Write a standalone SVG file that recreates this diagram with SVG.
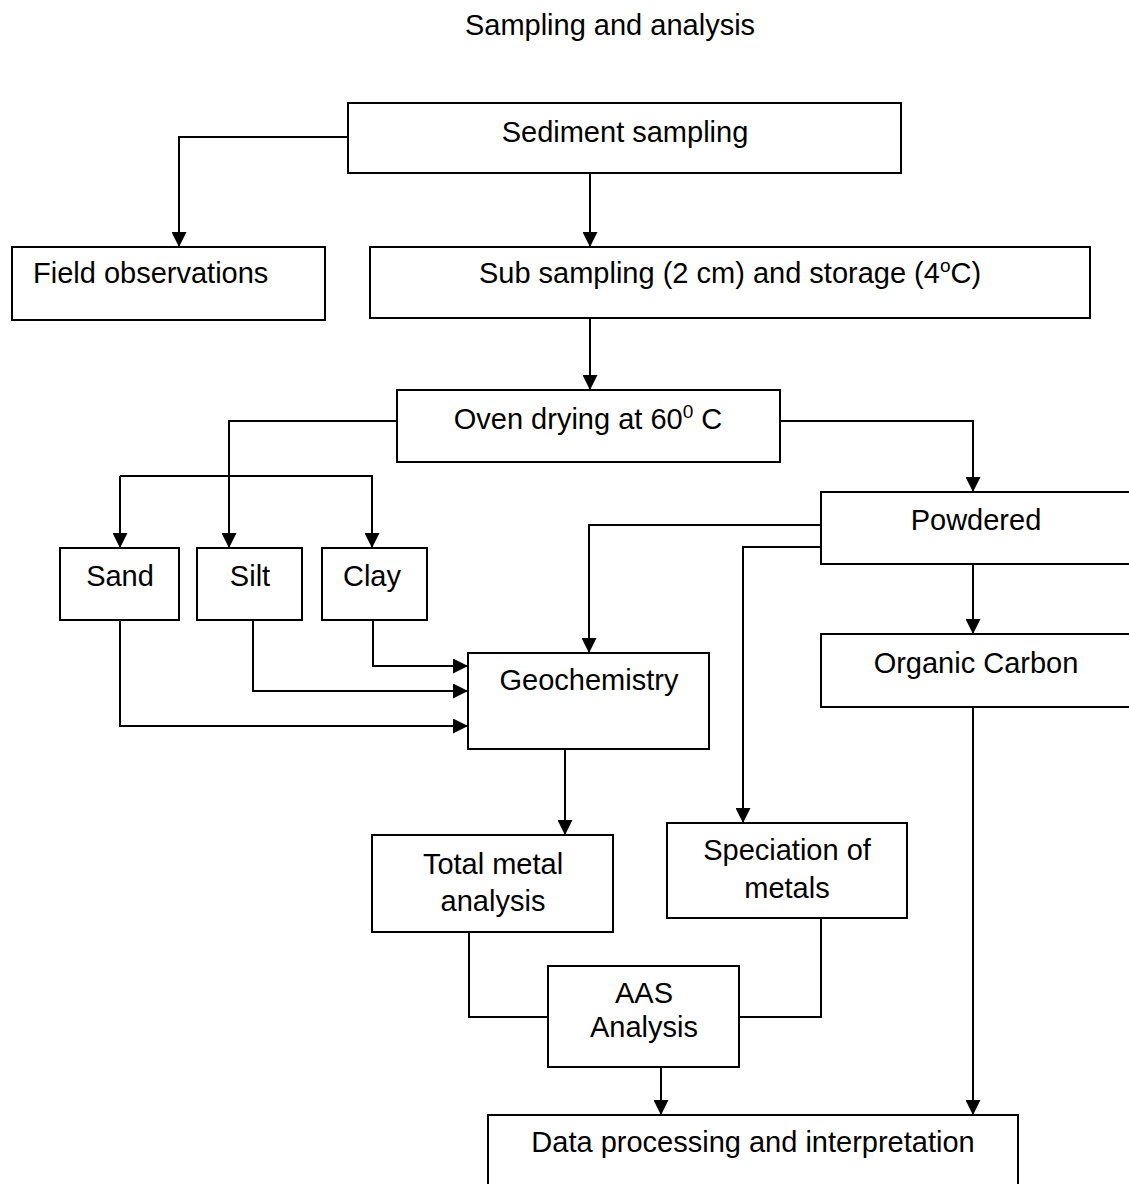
<svg xmlns="http://www.w3.org/2000/svg" width="1129" height="1184" viewBox="0 0 1129 1184">
<defs>
<style>
.box{fill:#fff;stroke:#000;stroke-width:2}
.t{font-family:"Liberation Sans",Arial,sans-serif;font-size:29px;fill:#000;text-anchor:middle}
.c{fill:none;stroke:#000;stroke-width:2}
</style>
<marker id="ah" viewBox="0 0 10 10" refX="10" refY="5" markerWidth="15" markerHeight="15" markerUnits="userSpaceOnUse" orient="auto">
<path d="M0,0 L10,5 L0,10 z" fill="#000"/>
</marker>
</defs>
<rect width="1129" height="1184" fill="#fff"/>
<text class="t" x="610" y="35">Sampling and analysis</text>
<g id="connectors">
<path class="c" d="M348,137 H179 V247" marker-end="url(#ah)"/>
<path class="c" d="M590,173 V247" marker-end="url(#ah)"/>
<path class="c" d="M590,318 V390" marker-end="url(#ah)"/>
<path class="c" d="M397,421 H229 V548" marker-end="url(#ah)"/>
<path class="c" d="M120,476 H373"/>
<path class="c" d="M120,476 V548" marker-end="url(#ah)"/>
<path class="c" d="M372,476 V548" marker-end="url(#ah)"/>
<path class="c" d="M780,421 H973 V492" marker-end="url(#ah)"/>
<path class="c" d="M821,525 H589 V653" marker-end="url(#ah)"/>
<path class="c" d="M821,547 H743 V823" marker-end="url(#ah)"/>
<path class="c" d="M973,564 V634" marker-end="url(#ah)"/>
<path class="c" d="M973,707 V1115" marker-end="url(#ah)"/>
<path class="c" d="M373,620 V666 H468" marker-end="url(#ah)"/>
<path class="c" d="M253,620 V691 H468" marker-end="url(#ah)"/>
<path class="c" d="M120,620 V726 H468" marker-end="url(#ah)"/>
<path class="c" d="M565,749 V835" marker-end="url(#ah)"/>
<path class="c" d="M469,932 V1017 H548"/>
<path class="c" d="M821,918 V1017 H739"/>
<path class="c" d="M661,1067 V1115" marker-end="url(#ah)"/>
</g>
<g id="sediment"><rect class="box" x="348" y="103" width="553" height="70"/><text class="t" x="625" y="142">Sediment sampling</text></g>
<g id="field"><rect class="box" x="12" y="247" width="313" height="73"/><text class="t" x="33" y="283" style="text-anchor:start">Field observations</text></g>
<g id="subsampling"><rect class="box" x="370" y="247" width="720" height="71"/><text class="t" x="730" y="283">Sub sampling (2 cm) and storage (4<tspan dy="-11" font-size="19">o</tspan><tspan dy="11">C)</tspan></text></g>
<g id="oven"><rect class="box" x="397" y="390" width="383" height="72"/><text class="t" x="588" y="429">Oven drying at 60<tspan dy="-11" font-size="19">0</tspan><tspan dy="11"> C</tspan></text></g>
<g id="sand"><rect class="box" x="60" y="548" width="119" height="72"/><text class="t" x="120" y="586">Sand</text></g>
<g id="silt"><rect class="box" x="197" y="548" width="105" height="72"/><text class="t" x="250" y="586">Silt</text></g>
<g id="clay"><rect class="box" x="322" y="548" width="105" height="72"/><text class="t" x="372" y="586">Clay</text></g>
<g id="powdered"><rect class="box" x="821" y="492" width="320" height="72"/><text class="t" x="976" y="530">Powdered</text></g>
<g id="organic"><rect class="box" x="821" y="634" width="320" height="73"/><text class="t" x="976" y="673">Organic Carbon</text></g>
<g id="geochemistry"><rect class="box" x="468" y="653" width="241" height="96"/><text class="t" x="589" y="690">Geochemistry</text></g>
<g id="totalmetal"><rect class="box" x="372" y="835" width="241" height="97"/><text class="t" x="493" y="874">Total metal</text><text class="t" x="493" y="911">analysis</text></g>
<g id="speciation"><rect class="box" x="667" y="823" width="240" height="95"/><text class="t" x="787" y="860">Speciation of</text><text class="t" x="787" y="898">metals</text></g>
<g id="aas"><rect class="box" x="548" y="966" width="191" height="101"/><text class="t" x="644" y="1003">AAS</text><text class="t" x="644" y="1037">Analysis</text></g>
<g id="data"><rect class="box" x="488" y="1115" width="530" height="90"/><text class="t" x="753" y="1152">Data processing and interpretation</text></g>
</svg>
